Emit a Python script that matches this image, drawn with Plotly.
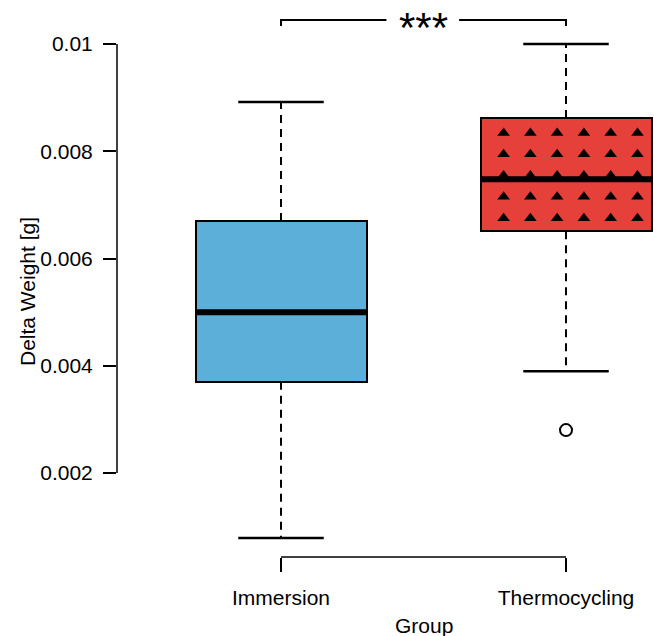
import numpy as np
import plotly.graph_objects as go

# ---- data ----
groups = ["Immersion", "Thermocycling"]
lower_whisker = [0.00079, 0.0039]
q1 = [0.0037, 0.00651]
median = [0.0050, 0.00748]
q3 = [0.0067, 0.00862]
upper_whisker = [0.00892, 0.0100]
outlier_group = [2]
outlier_value = [0.0028]
box_colors = ["#5CAFD8", "#E5403A"]
y_ticks = [0.002, 0.004, 0.006, 0.008, 0.01]
y_tick_labels = ["0.002", "0.004", "0.006", "0.008", "0.01"]
signif_label = "***"

FONT = "Liberation Sans, Arial, Helvetica, sans-serif"
BOXW = 0.6
CAPW = 0.3
xpos = [1, 2]

fig = go.Figure()

# boxes as bars from q1 to q3
fig.add_trace(go.Bar(
    x=xpos, y=[b - a for a, b in zip(q1, q3)], base=q1, width=BOXW,
    marker=dict(color=box_colors, line=dict(color="black", width=2)),
    hoverinfo="skip", showlegend=False))

# whiskers (dashed) and caps
for i, x in enumerate(xpos):
    fig.add_trace(go.Scatter(x=[x, x], y=[q3[i], upper_whisker[i]], mode="lines",
                             line=dict(color="black", width=2, dash="8px,6px"),
                             showlegend=False, hoverinfo="skip"))
    fig.add_trace(go.Scatter(x=[x, x], y=[q1[i], lower_whisker[i]], mode="lines",
                             line=dict(color="black", width=2, dash="8px,6px"),
                             showlegend=False, hoverinfo="skip"))
    for v in (upper_whisker[i], lower_whisker[i]):
        fig.add_trace(go.Scatter(x=[x - CAPW / 2, x + CAPW / 2], y=[v, v], mode="lines",
                                 line=dict(color="black", width=2.5),
                                 showlegend=False, hoverinfo="skip"))

# triangle pattern on Thermocycling box
gi = 1
left = xpos[gi] - BOXW / 2
h = q3[gi] - q1[gi]
cols = left + np.linspace(0.135, 0.918, 6) * BOXW
rows = q3[gi] - np.linspace(0.133, 0.885, 5) * h
tx, ty = np.meshgrid(cols, rows)
fig.add_trace(go.Scatter(x=tx.ravel(), y=ty.ravel(), mode="markers",
                         marker=dict(symbol="triangle-up", size=11, color="black"),
                         showlegend=False, hoverinfo="skip"))

# medians
for i, x in enumerate(xpos):
    fig.add_trace(go.Scatter(x=[x - BOXW / 2, x + BOXW / 2], y=[median[i], median[i]],
                             mode="lines", line=dict(color="black", width=6),
                             showlegend=False, hoverinfo="skip"))

# outliers
fig.add_trace(go.Scatter(x=outlier_group, y=outlier_value, mode="markers",
                         marker=dict(symbol="circle-open", size=12, color="black",
                                     line=dict(width=2)),
                         showlegend=False, hoverinfo="skip"))

# significance bracket
yb = 0.010448
yb_tick = 0.010336
fig.add_trace(go.Scatter(x=[1, 1, 1.37, None, 1.625, 2, 2],
                         y=[yb_tick, yb, yb, None, yb, yb, yb_tick],
                         mode="lines", line=dict(color="black", width=2),
                         showlegend=False, hoverinfo="skip"))
fig.add_annotation(x=1.5, y=yb, xref="x", yref="y", text=signif_label, showarrow=False,
                   font=dict(family=FONT, size=42, color="black"), yshift=-8)

# axis lines (R style, spanning tick range only)
fig.add_shape(type="line", xref="paper", yref="y", x0=0, x1=0, y0=y_ticks[0], y1=y_ticks[-1],
              line=dict(color="black", width=1.5))
fig.add_shape(type="line", xref="x", yref="paper", x0=xpos[0], x1=xpos[-1], y0=0, y1=0,
              line=dict(color="black", width=1.5))

# axis titles
fig.add_annotation(x=(28 - 117) / 537, y=(557 - 292) / 547, xref="paper", yref="paper",
                   xanchor="center", yanchor="middle",
                   text="Delta Weight [g]", textangle=-90, showarrow=False,
                   font=dict(family=FONT, size=21, color="black"))
fig.add_annotation(x=1.5, y=0, xref="x", yref="paper", yanchor="middle",
                   text="Group", showarrow=False, yshift=-68,
                   font=dict(family=FONT, size=21, color="black"))

fig.update_layout(
    width=654, height=636,
    margin=dict(l=117, r=0, t=10, b=79),
    plot_bgcolor="white", paper_bgcolor="white",
    font=dict(family=FONT, size=21, color="black"),
    showlegend=False,
    bargap=0,
)
fig.update_xaxes(range=[1 - 164 / 285, 2 + 88 / 285], tickvals=xpos, ticktext=groups,
                 ticks="outside", ticklen=14, tickwidth=1.5, tickcolor="black",
                 ticklabelstandoff=8,
                 showgrid=False, zeroline=False, showline=False,
                 tickfont=dict(family=FONT, size=21, color="black"))
fig.update_yaxes(range=[0.000434, 0.010634], tickvals=y_ticks, ticktext=y_tick_labels,
                 ticks="outside", ticklen=13, tickwidth=1.5, tickcolor="black",
                 ticklabelstandoff=6,
                 showgrid=False, zeroline=False, showline=False,
                 tickfont=dict(family=FONT, size=21, color="black"))

fig.write_html("out.html", config={"displayModeBar": False},
               post_script="document.body.style.margin='0';document.body.style.overflow='hidden';")
